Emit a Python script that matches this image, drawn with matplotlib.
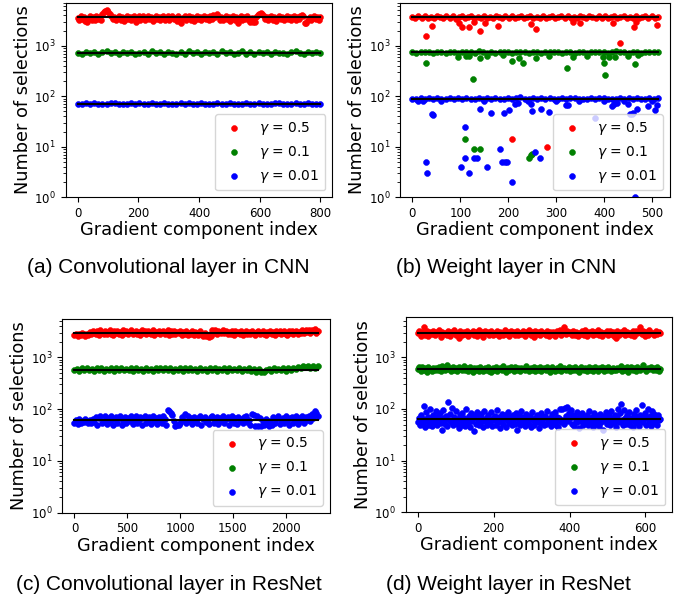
import matplotlib
matplotlib.use("Agg")
import matplotlib.pyplot as plt
import numpy as np

# number of gradient components per layer
n_a, n_b, n_c, n_d = 800, 512, 2304, 640

gammas = ['0.5', '0.1', '0.01']
colors = ['red', 'green', 'blue']

# (a) convolutional layer in CNN
a_red = [3600, 3250, 3800, 3400, 3700, 3150, 2990, 3550, 3850, 3300,
         3650, 3200, 3900, 3450, 3750, 3300, 4300, 4600, 4900, 5100,
         4700, 4300, 3900, 3350, 3750, 3200, 3600, 3850, 3300, 3700,
         3150, 3550, 3900, 3400, 3750, 3250, 3650, 3850, 2990, 3500,
         3800, 3300, 3650, 3900, 3200, 3550, 3850, 3400, 3700, 3150,
         3600, 3950, 3350, 3750, 3200, 3650, 3900, 3300, 3550, 3850,
         3250, 3700, 3950, 3400, 3600, 3150, 3800, 3350, 2810, 3550,
         3900, 3200, 3650, 3850, 3300, 3700, 3150, 3550, 3900, 3400,
         3750, 3250, 3600, 3850, 3350, 3700, 3200, 3950, 3450, 4100,
         3650, 4250, 3900, 3300, 3750, 3200, 3600, 3850, 3350, 3700,
         3150, 3550, 3900, 3300, 3650, 2850, 3500, 3850, 3250, 3700,
         3350, 3800, 3200, 2880, 3500, 2900, 3000, 3650, 4100, 4300,
         4430, 4200, 3900, 3400, 3750, 3200, 3650, 3850, 3300, 3700,
         3150, 3600, 3900, 3350, 3750, 3250, 3550, 3850, 3400, 3700,
         3200, 3650, 3900, 3300, 3750, 3450, 3850, 4100, 3950, 2810,
         2850, 3300, 3700, 3200, 3600, 3850, 3350, 3750, 3250, 3650]
a_green = [720, 690, 750, 705, 735, 695, 765, 790, 710, 745,
           690, 740, 715, 760, 700, 725, 755, 690, 775, 710,
           735, 695, 750, 720, 700, 765, 690, 785, 725, 745,
           695, 755, 710, 735, 690, 770, 715, 750, 700, 730,
           780, 700, 740, 690, 760, 715, 735, 695, 755, 710,
           730, 690, 750, 785, 715, 695, 740, 705, 760, 725]
a_blue = [71, 69, 72, 70, 73, 69, 71, 70, 72, 74,
          70, 71, 69, 72, 70, 73, 71, 69, 72, 70,
          71, 74, 69, 71, 70, 72, 69, 73, 70, 71,
          72, 69, 71, 70, 73, 71, 69, 72, 70, 71,
          69, 72, 70, 71, 73, 69, 71, 70, 72, 74,
          70, 71, 69, 72, 70, 71, 73, 69, 71, 70]
a_mean = [3650, 727, 71]

# (b) weight layer in CNN: main bands plus scattered low counts
b_red = [3700, 3500, 3850, 3600, 3900, 3480, 3750, 3550, 3950, 3650,
         3500, 3800, 3600, 3900, 3450, 3700, 3850, 3550, 3650, 3950,
         3500, 3750, 3600, 3880, 3480, 3700, 3550, 3900, 3650, 3500,
         3800, 3600, 3950, 3500, 3700, 3850, 3550, 3650, 3900, 3480,
         3750, 3600, 3850, 3500, 3700, 3950, 3550, 3650, 3800, 3500,
         3900, 3600, 3750, 3480, 3850, 3650, 3550, 3950, 3700, 3500,
         3800, 3600, 3900, 3550, 3700, 3850, 3500, 3650, 3950, 3600,
         3750, 3480, 3880, 3550, 3700, 3900, 3600, 3800, 3500, 3700]
b_green = [740, 725, 760, 735, 750, 720, 765, 740, 730, 755,
           745, 720, 760, 735, 750, 725, 770, 740, 730, 755,
           720, 745, 760, 735, 725, 750, 740, 765, 730, 745,
           755, 720, 740, 760, 735, 750, 725, 745, 765, 730,
           740, 755, 720, 750, 735, 760, 745, 725, 740, 770,
           735, 750, 720, 755, 740, 730, 760, 745, 735, 750]
b_blue = [90, 88, 93, 89, 91, 87, 94, 90, 88, 92,
          89, 91, 87, 93, 90, 88, 94, 89, 91, 87,
          92, 90, 88, 93, 89, 91, 95, 88, 90, 92,
          87, 91, 89, 93, 90, 88, 92, 89, 91, 94,
          88, 90, 87, 92, 89, 91, 93, 88, 90, 89,
          92, 87, 91, 90, 94, 88, 90, 92, 89, 91]
b_mean = [3650, 740, 89]

b_red_out_idx = [28, 42, 97, 103, 119, 129, 142, 152, 179, 208,
                 247, 257, 280, 334, 350, 418, 432, 461, 465, 510]
b_red_out_val = [1580, 2490, 2770, 2320, 2350, 2890, 1960, 2770, 2460, 14,
                 2650, 2170, 10, 2890, 2770, 2770, 1110, 2350, 2890, 2570]
b_green_out_idx = [28, 96, 109, 111, 118, 126, 128, 140, 142, 156,
                   188, 208, 222, 230, 242, 247, 249, 257, 285, 322,
                   335, 363, 397, 399, 402, 410, 422, 450, 463, 470]
b_green_out_val = [448, 605, 14, 634, 634, 219, 8.9, 8.9, 578, 620,
                   654, 505, 578, 448, 5.9, 6.9, 7.2, 562, 634, 357,
                   590, 634, 605, 462, 259, 605, 605, 634, 435, 654]
b_blue_out_idx = [12, 23, 28, 30, 41, 43, 101, 109, 110, 119,
                  128, 135, 140, 156, 164, 182, 187, 191, 192, 198,
                  202, 208, 213, 220, 247, 249, 256, 266, 269, 285,
                  320, 324, 348, 380, 399, 415, 420, 427, 450, 453,
                  457, 460, 463, 467, 490, 506, 509, 60, 150, 240,
                  300, 440, 500]
b_blue_out_val = [80, 80, 5.0, 3.0, 44, 42, 4.0, 5.9, 25, 3.0,
                  5.9, 5.9, 55, 4.0, 47, 8.9, 5.0, 46, 5.0, 5.0,
                  53, 2.0, 69, 72, 69, 52, 8.0, 6.0, 55, 49,
                  68, 66, 80, 37, 80, 64, 69, 74, 70, 44,
                  45, 46, 1.0, 57, 64, 53, 66, 81, 80, 81,
                  80, 81, 80]

# (c) convolutional layer in ResNet
c_red = [2650, 2800, 2600, 2850, 2700, 2900, 2750, 2620, 2850, 2700,
         3100, 2750, 3250, 2900, 2800, 3150, 2700, 3300, 2950, 2800,
         3200, 2750, 3050, 3300, 2850, 2700, 3150, 2950, 3250, 2800,
         3100, 2700, 3300, 2900, 3200, 2750, 3050, 3350, 2850, 2950,
         3250, 2800, 3100, 2700, 3300, 2900, 3150, 2750, 3200, 3000,
         2850, 3300, 2700, 3100, 2950, 3250, 2750, 3050, 3200, 2800,
         2950, 3300, 2700, 3150, 2850, 3250, 2750, 3050, 2900, 3200,
         2700, 3100, 2850, 3250, 2650, 3000, 2800, 3150, 2700, 3050,
         2900, 2650, 3200, 2750, 2600, 2900, 2550, 2700, 2420, 2600,
         3350, 3000, 3300, 2850, 3250, 3100, 2950, 3350, 2900, 3200,
         2750, 3100, 2850, 3250, 2700, 3150, 2900, 3050, 2800, 3200,
         2700, 3000, 3250, 2800, 3100, 2750, 3200, 2900, 2650, 3050,
         3150, 2750, 3000, 3250, 2850, 2700, 3100, 2950, 3200, 2800,
         3050, 2700, 3250, 2900, 3150, 2750, 3000, 3200, 2850, 2700,
         3150, 2900, 3250, 2800, 3050, 3200, 2750, 3100, 2950, 3300,
         2900, 3350, 3050, 3400, 2950, 3300, 3150, 3450, 3000, 3250]
c_green = [560, 600, 545, 610, 555, 620, 570, 595, 540, 615,
           565, 625, 550, 605, 575, 630, 545, 610, 560, 620,
           555, 600, 570, 625, 545, 615, 560, 605, 550, 620,
           575, 600, 545, 625, 565, 610, 555, 630, 560, 615,
           550, 605, 570, 620, 545, 610, 560, 625, 555, 600,
           540, 615, 565, 605, 535, 610, 560, 625, 550, 600,
           565, 620, 545, 610, 555, 605, 570, 615, 550, 600,
           560, 620, 545, 595, 530, 590, 520, 515, 560, 600,
           545, 610, 555, 600, 565, 620, 550, 610, 570, 630,
           600, 660, 620, 680, 640, 670, 610, 685, 630, 665]
c_blue = [55, 62, 52, 64, 54, 60, 56, 63, 58, 53,
          61, 55, 64, 57, 70, 50, 66, 72, 53, 60,
          74, 51, 68, 57, 72, 50, 63, 71, 54, 66,
          73, 50, 60, 70, 53, 68, 58, 74, 51, 65,
          72, 54, 61, 70, 50, 67, 73, 55, 62, 69,
          52, 74, 58, 66, 51, 71, 60, 54, 73, 63,
          50, 95, 90, 85, 78, 60, 48, 50, 49, 55,
          70, 62, 80, 53, 72, 58, 67, 51, 70, 61,
          54, 68, 73, 50, 64, 71, 56, 62, 52, 69,
          74, 55, 60, 71, 51, 66, 58, 72, 53, 64,
          70, 50, 62, 73, 55, 67, 52, 71, 59, 64,
          53, 69, 74, 56, 61, 50, 82, 78, 47, 72,
          48, 66, 47, 58, 49, 64, 52, 47, 60, 50,
          70, 54, 65, 72, 51, 62, 68, 53, 73, 58,
          50, 67, 71, 55, 62, 74, 52, 66, 59, 72,
          54, 69, 61, 75, 58, 80, 66, 91, 85, 75]
c_mean = [2900, 576, 61]

# (d) weight layer in ResNet
d_red = [2900, 3200, 2600, 3050, 3850, 2750, 3300, 2550, 3100, 2850,
         3250, 2650, 3050, 2950, 3350, 2500, 3150, 2800, 3000, 2700,
         3250, 2600, 3100, 2900, 3400, 2750, 3000, 2330, 3200, 2650,
         3100, 2850, 3300, 2550, 3000, 2950, 3250, 2700, 3150, 2600,
         3350, 2800, 3050, 2500, 3200, 2900, 3100, 2650, 3300, 2750,
         3000, 2850, 3250, 2600, 3150, 2950, 2700, 3350, 2800, 3050,
         2550, 3200, 2900, 3100, 2650, 3300, 2750, 3000, 2850, 3250,
         2600, 3150, 2950, 3400, 2700, 3050, 2500, 3200, 2800, 3100,
         2650, 3300, 2900, 3000, 2750, 3250, 2550, 3150, 2850, 3050,
         2600, 3200, 2950, 3350, 2700, 3100, 3800, 2800, 3250, 2900,
         3050, 2650, 3300, 2750, 3150, 2550, 3000, 2850, 3200, 2700,
         3350, 2600, 3100, 2900, 3250, 2650, 3050, 2800, 3400, 2750,
         3150, 2550, 3000, 2950, 3300, 2700, 3200, 2850, 3050, 2600,
         2330, 3250, 2750, 3100, 2900, 3350, 2650, 3150, 2800, 3000,
         2700, 3300, 2550, 3200, 2950, 3050, 3800, 2850, 3250, 2600,
         3100, 2750, 3350, 2900, 3000, 2650, 3200, 2800, 3150, 2950]
d_green = [590, 640, 545, 660, 575, 620, 530, 650, 600, 555,
           635, 565, 610, 580, 645, 540, 665, 595, 560, 720,
           585, 625, 550, 655, 570, 610, 535, 640, 595, 560,
           665, 580, 620, 545, 650, 600, 530, 630, 570, 610,
           555, 660, 590, 540, 625, 575, 645, 550, 512, 615,
           580, 655, 545, 600, 635, 560, 670, 585, 530, 620,
           565, 640, 595, 550, 655, 575, 610, 540, 630, 590,
           560, 665, 600, 535, 620, 580, 645, 555, 610, 570,
           650, 545, 600, 625, 560, 660, 585, 530, 640, 595,
           555, 615, 575, 670, 545, 605, 635, 565, 590, 650,
           540, 620, 580, 655, 560, 600, 530, 645, 590, 565,
           630, 550, 660, 575, 610, 545, 640, 595, 555, 625,
           585, 660, 535, 615, 570, 650, 600, 545, 635, 580,
           560, 625, 590, 665, 550, 610, 575, 640, 530, 600,
           655, 570, 615, 545, 640, 595, 560, 630, 720, 585,
           550, 620, 600, 660, 565, 610, 580, 645, 555, 600]
d_blue = [55, 68, 48, 75, 60, 52, 112, 64, 45, 88,
          58, 70, 50, 100, 62, 47, 78, 56, 66, 92,
          49, 72, 58, 84, 53, 40, 66, 95, 60, 51,
          74, 46, 135, 62, 80, 55, 105, 48, 70, 58,
          90, 52, 64, 43, 76, 60, 50, 85, 57, 68,
          47, 98, 62, 54, 72, 45, 82, 59, 66, 38,
          75, 52, 88, 61, 49, 70, 56, 80, 64, 44,
          92, 58, 68, 50, 77, 62, 53, 86, 46, 66,
          60, 73, 48, 95, 55, 70, 42, 64, 58, 81,
          51, 67, 75, 45, 62, 88, 54, 70, 59, 48,
          78, 63, 52, 84, 40, 66, 57, 74, 50, 90,
          61, 55, 69, 47, 80, 58, 64, 52, 72, 45,
          86, 60, 49, 68, 56, 76, 62, 43, 70, 54,
          82, 58, 66, 48, 74, 52, 92, 61, 55, 68,
          46, 79, 63, 57, 88, 50, 71, 60, 45, 66,
          98, 55, 100, 62, 52, 105, 74, 110, 58, 84,
          66, 95, 52, 78, 47, 70, 60, 88, 55, 64,
          42, 73, 58, 82, 50, 68, 62, 54, 76, 48,
          90, 60, 53, 70, 45, 84, 58, 66, 51, 74,
          62, 47, 80, 56, 68, 40, 72, 59, 86, 52,
          64, 75, 49, 92, 57, 66, 53, 78, 61, 45,
          70, 102, 55, 84, 125, 60, 48, 95, 66, 52,
          76, 58, 88, 50, 68, 62, 45, 80, 56, 72,
          94, 53, 64, 47, 78, 60, 118, 55, 70, 85,
          50, 66, 102, 58, 74, 46, 90, 62, 54, 80,
          57, 70, 48, 76, 60, 64]
d_mean = [2910, 586, 64]

captions = ['(a) Convolutional layer in CNN', '(b) Weight layer in CNN',
            '(c) Convolutional layer in ResNet', '(d) Weight layer in ResNet']

MS = 18  # marker area


def draw_panel(ax, n, bands, means, ytop, outliers=None):
    for k, vals in enumerate(bands):
        idx = np.linspace(0, n - 1, len(vals))
        ax.scatter(idx, vals, s=MS, color=colors[k], edgecolors=colors[k],
                   linewidths=0.4, label=r'$\gamma$ = ' + gammas[k], zorder=2)
        if outliers is not None:
            oi, ov = outliers[k]
            ax.scatter(oi, ov, s=MS, color=colors[k], edgecolors=colors[k],
                       linewidths=0.4, zorder=2)
        ax.plot([0, n - 1], [means[k], means[k]], 'k-', lw=1.5, zorder=3)
    ax.set_yscale('log')
    ax.set_ylim(1, ytop)
    ax.set_xlabel('Gradient component index', fontsize=12.8, labelpad=1)
    ax.set_ylabel('Number of selections', fontsize=12.8, labelpad=2)
    ax.tick_params(labelsize=8.5)
    ax.legend(loc='lower right', fontsize=10)


fig = plt.figure(figsize=(6.86, 5.99), dpi=100)
ax_a = fig.add_axes([0.0958, 0.6706, 0.3886, 0.3249])
ax_b = fig.add_axes([0.5831, 0.6706, 0.3936, 0.3249])
ax_c = fig.add_axes([0.0908, 0.1441, 0.3902, 0.3234])
ax_d = fig.add_axes([0.5914, 0.1447, 0.3886, 0.3255])

draw_panel(ax_a, n_a, [a_red, a_green, a_blue], a_mean, 7100)
draw_panel(ax_b, n_b, [b_red, b_green, b_blue], b_mean, 7100,
           outliers=[(b_red_out_idx, b_red_out_val),
                     (b_green_out_idx, b_green_out_val),
                     (b_blue_out_idx, b_blue_out_val)])
draw_panel(ax_c, n_c, [c_red, c_green, c_blue], c_mean, 5480)
draw_panel(ax_d, n_d, [d_red, d_green, d_blue], d_mean, 5940)

cap_font = ['Liberation Sans', 'DejaVu Sans']
fig.text(0.245, 0.5526, captions[0], ha='center', va='center', fontsize=15, family=cap_font)
fig.text(0.7376, 0.5526, captions[1], ha='center', va='center', fontsize=15, family=cap_font)
fig.text(0.2464, 0.0234, captions[2], ha='center', va='center', fontsize=15, family=cap_font)
fig.text(0.7405, 0.0234, captions[3], ha='center', va='center', fontsize=15, family=cap_font)

fig.savefig('out.png', dpi=100)
